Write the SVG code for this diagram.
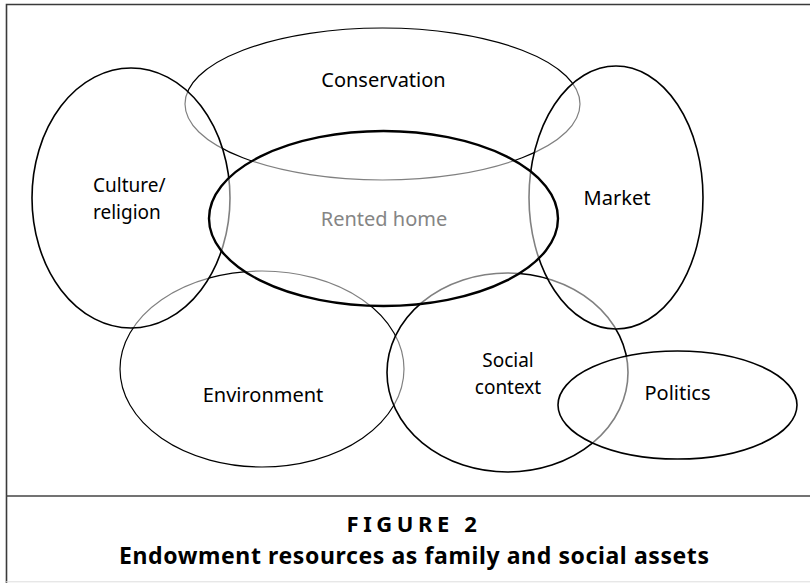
<svg xmlns="http://www.w3.org/2000/svg" width="810" height="583" viewBox="0 0 810 583">
<style>
.bg{fill:#fff}
.set{fill:#fff;fill-opacity:0.5;stroke:#000}
.thin{stroke-width:1.2}
.mid{stroke-width:1.6}
.thick{stroke-width:2.4}
.lbl{font-family:"Noto Sans","Open Sans","DejaVu Sans",sans-serif;font-size:20px;fill:#000}
.two{font-size:19px}
.cap{font-family:"Noto Sans","DejaVu Sans",sans-serif;font-weight:bold;fill:#000}
.frame{fill:none;stroke:#3a3a3a;stroke-width:1.6}
</style>
<rect class="bg" x="0" y="0" width="810" height="583"/>
<path class="frame" d="M6.5,583 V4.5 H812"/>
<line x1="6" y1="496" x2="812" y2="496" stroke="#444" stroke-width="1.6"/>
<line x1="6" y1="581.8" x2="812" y2="581.8" stroke="#ddd" stroke-width="1"/>
<g id="connectors"/>
<g id="conservation">
<ellipse class="set thin" cx="382.5" cy="104" rx="197.5" ry="76"/>
<text class="lbl" x="383.5" y="87" text-anchor="middle">Conservation</text>
</g>
<g id="environment">
<ellipse class="set thin" cx="262" cy="369" rx="142" ry="98"/>
<text class="lbl" x="263" y="402" text-anchor="middle">Environment</text>
</g>
<g id="culture-religion">
<ellipse class="set mid" cx="131" cy="198" rx="99" ry="130"/>
<text class="lbl two"><tspan x="93" y="192">Culture/</tspan><tspan x="93" y="218.5">religion</tspan></text>
</g>
<g id="social-context">
<ellipse class="set mid" cx="507.5" cy="372.5" rx="120.5" ry="99.5"/>
<text class="lbl two" text-anchor="middle"><tspan x="508" y="367">Social</tspan><tspan x="508" y="393.5">context</tspan></text>
</g>
<g id="market">
<ellipse class="set mid" cx="616" cy="197.5" rx="87" ry="131.5"/>
<text class="lbl" x="617" y="205" text-anchor="middle">Market</text>
</g>
<g id="rented-home">
<ellipse class="set thick" cx="383.5" cy="218.5" rx="174.5" ry="87.5"/>
<text class="lbl" x="384" y="226" text-anchor="middle" style="fill:#858585">Rented home</text>
</g>
<g id="politics">
<ellipse class="set mid" cx="677.5" cy="405" rx="119.5" ry="54"/>
<text class="lbl" x="677.5" y="400" text-anchor="middle">Politics</text>
</g>
<g id="caption">
<text class="cap" x="414" y="532" text-anchor="middle" font-size="22" letter-spacing="4.6">FIGURE 2</text>
<text class="cap" x="414" y="564" text-anchor="middle" font-size="23" textLength="590" lengthAdjust="spacing">Endowment resources as family and social assets</text>
</g>
</svg>
